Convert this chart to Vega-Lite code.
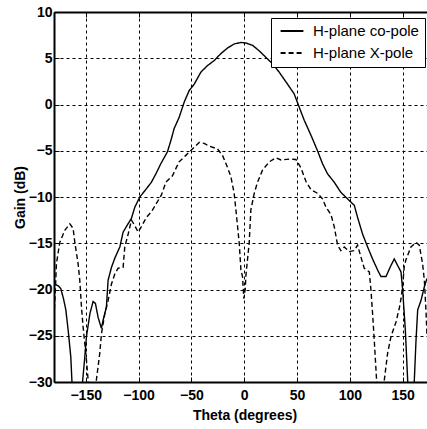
{
"$schema": "https://vega.github.io/schema/vega-lite/v6.json",
"width": 373, "height": 370,
"autosize": {"type": "none"},
"padding": {"left": 54, "top": 12, "right": 0, "bottom": 47},
"background": "white",
"config": {"view": {"stroke": null}, "font": "Liberation Sans"},
"data": {"values": [
{"series":"H-plane co-pole","theta":-180,"gain":-19.4},{"series":"H-plane co-pole","theta":-176,"gain":-19.6},{"series":"H-plane co-pole","theta":-173.6,"gain":-19.9},{"series":"H-plane co-pole","theta":-171,"gain":-21},{"series":"H-plane co-pole","theta":-168.8,"gain":-22.2},{"series":"H-plane co-pole","theta":-166.5,"gain":-24.5},{"series":"H-plane co-pole","theta":-164.1,"gain":-27.3},{"series":"H-plane co-pole","theta":-163,"gain":-30},{"series":"H-plane co-pole","theta":-160,"gain":-34},{"series":"H-plane co-pole","theta":-156,"gain":-34},{"series":"H-plane co-pole","theta":-153,"gain":-30},{"series":"H-plane co-pole","theta":-151,"gain":-27.5},{"series":"H-plane co-pole","theta":-149.3,"gain":-25.1},{"series":"H-plane co-pole","theta":-146,"gain":-22.6},{"series":"H-plane co-pole","theta":-143,"gain":-21.3},{"series":"H-plane co-pole","theta":-140.8,"gain":-21.5},{"series":"H-plane co-pole","theta":-138.3,"gain":-23},{"series":"H-plane co-pole","theta":-135.1,"gain":-24.2},{"series":"H-plane co-pole","theta":-133.5,"gain":-23.3},{"series":"H-plane co-pole","theta":-130.4,"gain":-21.9},{"series":"H-plane co-pole","theta":-128.8,"gain":-19},{"series":"H-plane co-pole","theta":-125.6,"gain":-17.6},{"series":"H-plane co-pole","theta":-122.4,"gain":-16.6},{"series":"H-plane co-pole","theta":-117.7,"gain":-15.4},{"series":"H-plane co-pole","theta":-114.6,"gain":-13.8},{"series":"H-plane co-pole","theta":-111.5,"gain":-13.2},{"series":"H-plane co-pole","theta":-106.7,"gain":-12.3},{"series":"H-plane co-pole","theta":-103.5,"gain":-11.1},{"series":"H-plane co-pole","theta":-98.8,"gain":-10.0},{"series":"H-plane co-pole","theta":-92.5,"gain":-9.1},{"series":"H-plane co-pole","theta":-87.8,"gain":-8.4},{"series":"H-plane co-pole","theta":-83.6,"gain":-7.5},{"series":"H-plane co-pole","theta":-78.9,"gain":-6.4},{"series":"H-plane co-pole","theta":-72.6,"gain":-5.1},{"series":"H-plane co-pole","theta":-69.4,"gain":-3.9},{"series":"H-plane co-pole","theta":-66.3,"gain":-2.6},{"series":"H-plane co-pole","theta":-61.6,"gain":-1.4},{"series":"H-plane co-pole","theta":-56.8,"gain":0.25},{"series":"H-plane co-pole","theta":-52.1,"gain":1.5},{"series":"H-plane co-pole","theta":-47.3,"gain":2.2},{"series":"H-plane co-pole","theta":-41,"gain":3.5},{"series":"H-plane co-pole","theta":-34.8,"gain":4.2},{"series":"H-plane co-pole","theta":-28.4,"gain":4.75},{"series":"H-plane co-pole","theta":-22.1,"gain":5.5},{"series":"H-plane co-pole","theta":-15.8,"gain":6.1},{"series":"H-plane co-pole","theta":-9.5,"gain":6.55},{"series":"H-plane co-pole","theta":-3.1,"gain":6.7},{"series":"H-plane co-pole","theta":1.6,"gain":6.65},{"series":"H-plane co-pole","theta":7.9,"gain":6.4},{"series":"H-plane co-pole","theta":14.2,"gain":5.8},{"series":"H-plane co-pole","theta":20.5,"gain":5.1},{"series":"H-plane co-pole","theta":26.8,"gain":4.4},{"series":"H-plane co-pole","theta":33.1,"gain":3.5},{"series":"H-plane co-pole","theta":41,"gain":2.2},{"series":"H-plane co-pole","theta":47.3,"gain":1.15},{"series":"H-plane co-pole","theta":52.1,"gain":-0.3},{"series":"H-plane co-pole","theta":56.8,"gain":-1.7},{"series":"H-plane co-pole","theta":63.1,"gain":-3.3},{"series":"H-plane co-pole","theta":69.4,"gain":-5.0},{"series":"H-plane co-pole","theta":74.1,"gain":-6.4},{"series":"H-plane co-pole","theta":78.9,"gain":-7.5},{"series":"H-plane co-pole","theta":85.2,"gain":-8.4},{"series":"H-plane co-pole","theta":91.5,"gain":-9.5},{"series":"H-plane co-pole","theta":97.8,"gain":-10.2},{"series":"H-plane co-pole","theta":104.2,"gain":-10.9},{"series":"H-plane co-pole","theta":107.3,"gain":-12.2},{"series":"H-plane co-pole","theta":112,"gain":-14.0},{"series":"H-plane co-pole","theta":116.8,"gain":-15.4},{"series":"H-plane co-pole","theta":121.5,"gain":-16.7},{"series":"H-plane co-pole","theta":126.3,"gain":-17.9},{"series":"H-plane co-pole","theta":129.4,"gain":-18.6},{"series":"H-plane co-pole","theta":134.2,"gain":-18.6},{"series":"H-plane co-pole","theta":138.9,"gain":-17.4},{"series":"H-plane co-pole","theta":142,"gain":-16.7},{"series":"H-plane co-pole","theta":145.2,"gain":-17.4},{"series":"H-plane co-pole","theta":148.4,"gain":-18.1},{"series":"H-plane co-pole","theta":150,"gain":-20.1},{"series":"H-plane co-pole","theta":152.5,"gain":-24.4},{"series":"H-plane co-pole","theta":154.7,"gain":-29.8},{"series":"H-plane co-pole","theta":156.5,"gain":-34},{"series":"H-plane co-pole","theta":159.5,"gain":-34},{"series":"H-plane co-pole","theta":161,"gain":-29.8},{"series":"H-plane co-pole","theta":162.6,"gain":-25.5},{"series":"H-plane co-pole","theta":164.2,"gain":-22.2},{"series":"H-plane co-pole","theta":167.3,"gain":-21.2},{"series":"H-plane co-pole","theta":170.5,"gain":-19.7},{"series":"H-plane co-pole","theta":173,"gain":-18.8},
{"series":"H-plane X-pole","theta":-180,"gain":-23},{"series":"H-plane X-pole","theta":-178.5,"gain":-19.5},{"series":"H-plane X-pole","theta":-177.7,"gain":-17.2},{"series":"H-plane X-pole","theta":-174.5,"gain":-14.9},{"series":"H-plane X-pole","theta":-169.8,"gain":-13.6},{"series":"H-plane X-pole","theta":-165,"gain":-12.9},{"series":"H-plane X-pole","theta":-161.9,"gain":-13.4},{"series":"H-plane X-pole","theta":-160.3,"gain":-14.9},{"series":"H-plane X-pole","theta":-157.2,"gain":-17.2},{"series":"H-plane X-pole","theta":-155.6,"gain":-19.0},{"series":"H-plane X-pole","theta":-154,"gain":-21.9},{"series":"H-plane X-pole","theta":-152.5,"gain":-24.0},{"series":"H-plane X-pole","theta":-150.9,"gain":-25.8},{"series":"H-plane X-pole","theta":-149.3,"gain":-27.6},{"series":"H-plane X-pole","theta":-147.7,"gain":-29.8},{"series":"H-plane X-pole","theta":-146,"gain":-34},{"series":"H-plane X-pole","theta":-142,"gain":-34},{"series":"H-plane X-pole","theta":-139.9,"gain":-29.8},{"series":"H-plane X-pole","theta":-136.7,"gain":-26.9},{"series":"H-plane X-pole","theta":-135.1,"gain":-24.8},{"series":"H-plane X-pole","theta":-131.9,"gain":-22.6},{"series":"H-plane X-pole","theta":-128.8,"gain":-21.2},{"series":"H-plane X-pole","theta":-125.6,"gain":-19.4},{"series":"H-plane X-pole","theta":-122.4,"gain":-18.3},{"series":"H-plane X-pole","theta":-119.3,"gain":-17.7},{"series":"H-plane X-pole","theta":-114.6,"gain":-17.6},{"series":"H-plane X-pole","theta":-113,"gain":-15.4},{"series":"H-plane X-pole","theta":-109.8,"gain":-14.0},{"series":"H-plane X-pole","theta":-106.7,"gain":-12.5},{"series":"H-plane X-pole","theta":-103.5,"gain":-13.1},{"series":"H-plane X-pole","theta":-100.4,"gain":-13.8},{"series":"H-plane X-pole","theta":-97.3,"gain":-13.2},{"series":"H-plane X-pole","theta":-92.5,"gain":-12.2},{"series":"H-plane X-pole","theta":-87.8,"gain":-11.6},{"series":"H-plane X-pole","theta":-83.1,"gain":-10.7},{"series":"H-plane X-pole","theta":-78.4,"gain":-9.8},{"series":"H-plane X-pole","theta":-74.1,"gain":-8.4},{"series":"H-plane X-pole","theta":-67.9,"gain":-7.7},{"series":"H-plane X-pole","theta":-61.6,"gain":-6.2},{"series":"H-plane X-pole","theta":-55.2,"gain":-5.5},{"series":"H-plane X-pole","theta":-49,"gain":-4.8},{"series":"H-plane X-pole","theta":-42.6,"gain":-4.1},{"series":"H-plane X-pole","theta":-37.9,"gain":-4.2},{"series":"H-plane X-pole","theta":-33,"gain":-4.5},{"series":"H-plane X-pole","theta":-25.3,"gain":-4.8},{"series":"H-plane X-pole","theta":-20.5,"gain":-5.5},{"series":"H-plane X-pole","theta":-15.8,"gain":-6.8},{"series":"H-plane X-pole","theta":-12.6,"gain":-7.8},{"series":"H-plane X-pole","theta":-9.5,"gain":-9.6},{"series":"H-plane X-pole","theta":-7.3,"gain":-12.0},{"series":"H-plane X-pole","theta":-4.7,"gain":-15.0},{"series":"H-plane X-pole","theta":-3.1,"gain":-17.9},{"series":"H-plane X-pole","theta":-1.6,"gain":-18.6},{"series":"H-plane X-pole","theta":-0.3,"gain":-21.0},{"series":"H-plane X-pole","theta":1,"gain":-19.9},{"series":"H-plane X-pole","theta":1.6,"gain":-18.5},{"series":"H-plane X-pole","theta":3.1,"gain":-16.8},{"series":"H-plane X-pole","theta":4.7,"gain":-15.0},{"series":"H-plane X-pole","theta":6.3,"gain":-11.4},{"series":"H-plane X-pole","theta":9.5,"gain":-9.6},{"series":"H-plane X-pole","theta":12.6,"gain":-8.4},{"series":"H-plane X-pole","theta":17.3,"gain":-7.1},{"series":"H-plane X-pole","theta":23.7,"gain":-6.2},{"series":"H-plane X-pole","theta":30,"gain":-5.75},{"series":"H-plane X-pole","theta":34.8,"gain":-6.0},{"series":"H-plane X-pole","theta":42.6,"gain":-5.9},{"series":"H-plane X-pole","theta":49,"gain":-5.95},{"series":"H-plane X-pole","theta":53.7,"gain":-6.85},{"series":"H-plane X-pole","theta":58.4,"gain":-8.3},{"series":"H-plane X-pole","theta":63.1,"gain":-9.2},{"series":"H-plane X-pole","theta":69.4,"gain":-9.6},{"series":"H-plane X-pole","theta":74.1,"gain":-10.2},{"series":"H-plane X-pole","theta":77.4,"gain":-11.1},{"series":"H-plane X-pole","theta":82.1,"gain":-11.9},{"series":"H-plane X-pole","theta":85.2,"gain":-13.2},{"series":"H-plane X-pole","theta":88.4,"gain":-15.2},{"series":"H-plane X-pole","theta":91.5,"gain":-15.8},{"series":"H-plane X-pole","theta":94.7,"gain":-15.4},{"series":"H-plane X-pole","theta":99.4,"gain":-15.9},{"series":"H-plane X-pole","theta":104.2,"gain":-15.8},{"series":"H-plane X-pole","theta":107.3,"gain":-15.2},{"series":"H-plane X-pole","theta":110.5,"gain":-16.5},{"series":"H-plane X-pole","theta":113.6,"gain":-17.7},{"series":"H-plane X-pole","theta":118.4,"gain":-18.1},{"series":"H-plane X-pole","theta":120,"gain":-20.1},{"series":"H-plane X-pole","theta":121.5,"gain":-22.6},{"series":"H-plane X-pole","theta":123.1,"gain":-25.5},{"series":"H-plane X-pole","theta":125.3,"gain":-29.8},{"series":"H-plane X-pole","theta":127,"gain":-34},{"series":"H-plane X-pole","theta":131,"gain":-34},{"series":"H-plane X-pole","theta":132.6,"gain":-29.8},{"series":"H-plane X-pole","theta":135.7,"gain":-26.9},{"series":"H-plane X-pole","theta":138.9,"gain":-25.1},{"series":"H-plane X-pole","theta":143.7,"gain":-23.5},{"series":"H-plane X-pole","theta":146.8,"gain":-22.0},{"series":"H-plane X-pole","theta":148.4,"gain":-21.0},{"series":"H-plane X-pole","theta":150,"gain":-19.5},{"series":"H-plane X-pole","theta":151.5,"gain":-17.5},{"series":"H-plane X-pole","theta":153,"gain":-16.8},{"series":"H-plane X-pole","theta":157.8,"gain":-15.4},{"series":"H-plane X-pole","theta":162.6,"gain":-14.9},{"series":"H-plane X-pole","theta":165.7,"gain":-15.2},{"series":"H-plane X-pole","theta":168.8,"gain":-17.2},{"series":"H-plane X-pole","theta":170.5,"gain":-19.0},{"series":"H-plane X-pole","theta":172,"gain":-22.2},{"series":"H-plane X-pole","theta":173,"gain":-25}
]},
"layer": [
{
"mark": {"type": "line", "clip": true, "strokeWidth": 1.4, "color": "black"},
"encoding": {
"x": {"field": "theta", "type": "quantitative",
  "scale": {"domain": [-180, 173], "nice": false, "zero": false},
  "axis": {"orient": "bottom", "values": [-150, -100, -50, 0, 50, 100, 150],
    "title": "Theta (degrees)", "titleFontSize": 14, "titleFontWeight": "bold", "titleColor": "black", "titleX": 190.5, "titlePadding": 6,
    "labelFontSize": 14, "labelFontWeight": "bold", "labelColor": "black", "labelPadding": 11,
    "tickSize": -5, "tickColor": "black", "domainColor": "black", "domainWidth": 2,
    "grid": true, "gridColor": "black", "gridDash": [3, 3], "gridWidth": 1}},
"y": {"field": "gain", "type": "quantitative",
  "scale": {"domain": [-30, 10], "nice": false, "zero": false},
  "axis": {"values": [-30, -25, -20, -15, -10, -5, 0, 5, 10],
    "title": "Gain (dB)", "titleFontSize": 14, "titleFontWeight": "bold", "titleColor": "black", "titlePadding": 1,
    "labelFontSize": 14, "labelFontWeight": "bold", "labelColor": "black", "labelPadding": 7,
    "tickSize": -5, "tickColor": "black", "domainColor": "black", "domainWidth": 2,
    "grid": true, "gridColor": "black", "gridDash": [3, 3], "gridWidth": 1}},
"strokeDash": {"field": "series", "type": "nominal",
  "scale": {"domain": ["H-plane co-pole", "H-plane X-pole"], "range": [[1, 0], [5, 3]]},
  "legend": {"orient": "none", "legendX": 217, "legendY": 6, "title": null,
    "strokeColor": "black", "fillColor": "white", "padding": 5.5,
    "symbolType": "M-1.9,0H1.9", "symbolSize": 144, "symbolStrokeWidth": 2, "symbolStrokeColor": "black", "symbolOffset": 8,
    "labelFontSize": 15, "labelColor": "black", "labelOffset": 13.5, "rowPadding": 6}}
}
},
{
"mark": {"type": "line", "opacity": 0},
"encoding": {
"x": {"field": "theta", "type": "quantitative",
  "axis": {"orient": "top", "values": [-150, -100, -50, 0, 50, 100, 150], "labels": false, "title": null,
    "tickSize": -5, "tickColor": "black", "domainColor": "black", "domainWidth": 2, "grid": false}}
}
}
]
}
